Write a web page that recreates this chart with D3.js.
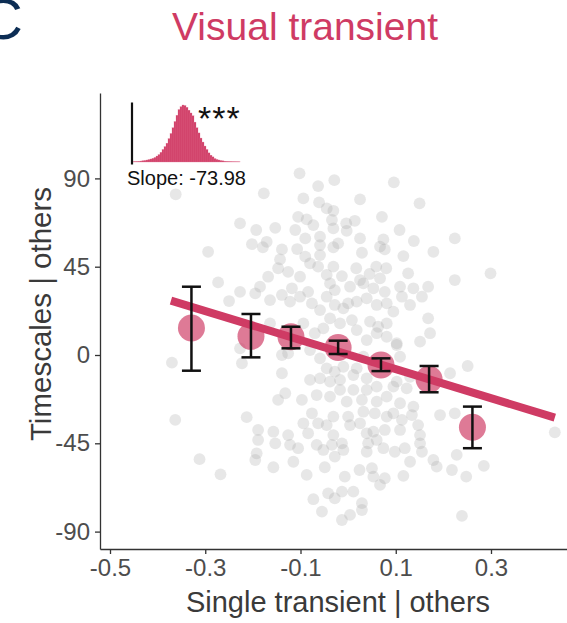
<!DOCTYPE html>
<html>
<head>
<meta charset="utf-8">
<script src="https://cdn.jsdelivr.net/npm/d3@7"></script>
<style>
  html, body { margin: 0; padding: 0; background: #ffffff; }
  svg { display: block; }
  text { font-family: "Liberation Sans", Arial, Helvetica, sans-serif; }
</style>
</head>
<body>
<svg id="chart" width="567" height="623"></svg>
<script>
// ---- data -------------------------------------------------------------
// individual observations: [single transient | others, timescales | others]
const pointX = [
  -0.362,-0.294,-0.273,-0.370,-0.363,-0.312,
  -0.102,-0.029,0.096,-0.063,-0.177,-0.094,0.025,0.150,-0.061,-0.045,-0.031,0.071,-0.105,-0.087,
  -0.034,0.014,-0.227,-0.004,-0.073,-0.153,-0.193,-0.111,-0.031,-0.003,0.108,-0.090,-0.059,0.025,
  0.074,0.138,0.224,-0.202,-0.171,-0.179,-0.139,-0.107,-0.059,-0.031,-0.021,0.067,0.077,0.029,
  0.116,0.179,-0.143,-0.090,-0.059,-0.147,-0.126,-0.080,-0.063,-0.031,0.017,0.059,0.080,0.126,
  -0.168,-0.101,-0.045,-0.013,0.025,0.045,0.067,0.224,-0.227,-0.185,-0.118,-0.084,-0.038,-0.028,
  0.004,0.032,0.053,0.077,0.109,0.137,0.168,0.299,
  -0.250,-0.195,-0.164,-0.139,-0.122,-0.101,-0.076,-0.059,-0.045,-0.028,-0.010,0.000,0.018,0.039,
  0.060,0.081,0.095,0.113,0.130,0.168,0.155,-0.038,-0.017,0.008,0.046,0.063,0.081,0.060,0.081,
  0.018,0.039,0.102,0.151,0.172,-0.164,-0.094,-0.070,-0.052,-0.227,-0.223,-0.139,-0.126,-0.139,
  -0.080,-0.059,-0.045,-0.028,-0.010,0.018,0.039,0.011,-0.017,-0.038,-0.059,-0.080,0.032,0.109,
  0.102,0.130,0.123,0.095,0.060,0.039,0.011,-0.017,-0.066,-0.132,-0.147,-0.097,-0.038,-0.003,
  0.029,0.060,0.081,0.109,0.137,0.214,0.251,0.102,
  -0.213,-0.189,-0.189,-0.157,-0.153,-0.126,-0.122,-0.105,-0.094,-0.084,-0.076,-0.063,-0.045,
  -0.066,-0.052,-0.034,-0.031,-0.028,-0.013,-0.010,-0.031,0.000,0.004,0.025,0.032,0.056,0.081,
  0.095,0.113,0.134,0.147,0.193,0.224,0.039,0.053,0.042,0.039,0.060,0.077,0.074,0.098,0.109,
  0.119,0.151,0.151,0.155,0.130,0.179,0.186,0.218,0.228,-0.192,-0.195,-0.157,-0.115,-0.087,
  -0.049,-0.007,0.024,0.050,0.053,0.077,0.067,0.116,-0.268,-0.042,-0.028,-0.013,0.011,-0.073,
  -0.055,-0.013,0.004,0.029,0.029,
  0.434,0.285,0.248,0.239
];
const pointY = [
  81.9,52.6,37.0,-3.9,-33.1,-53.1,
  92.6,89.1,88.0,86.1,82.4,79.8,79.3,77.3,77.8,74.7,73.5,70.4,70.4,69.1,
  68.8,68.4,67.1,67.1,66.2,64.8,63.7,63.7,64.5,63.3,63.7,59.4,60.3,59.4,
  58.9,58.1,59.4,56.5,57.7,54.9,53.8,54.0,56.0,54.9,56.9,55.2,53.8,52.1,
  50.4,52.6,48.7,50.1,50.9,44.2,42.4,46.7,45.0,45.0,44.2,45.0,44.2,41.6,
  39.9,39.9,40.8,40.2,38.2,41.3,39.1,38.2,32.2,34.8,34.0,32.2,36.5,33.1,
  34.8,36.5,34.0,32.2,34.8,34.0,34.8,41.6,
  27.5,31.4,28.0,30.6,27.2,29.7,26.3,22.9,29.7,25.5,23.8,26.3,27.2,28.9,
  25.5,26.3,22.1,29.7,25.5,18.7,29.7,18.7,16.1,17.8,17.0,14.4,16.1,11.1,9.3,
  12.7,7.6,6.0,6.8,11.1,16.1,16.1,11.1,13.6,3.4,-4.2,0.0,0.9,-9.3,
  2.5,-1.7,-6.8,-8.5,-6.0,-6.8,-11.9,-10.2,-12.7,-13.6,-11.9,-12.7,-0.9,-0.9,
  -13.6,-11.1,-17.0,-16.1,-16.1,-17.8,-17.8,-17.8,-20.4,-19.5,-22.9,-22.9,-21.2,-23.8,
  -22.9,-23.8,-21.2,-24.6,-26.3,-9.3,-5.6,5.1,
  -31.7,-38.2,-43.3,-39.1,-45.0,-40.8,-45.8,-47.5,-34.8,-39.9,-29.7,-34.8,-35.7,
  -45.8,-48.4,-45.8,-40.8,-51.8,-45.0,-48.4,-31.4,-31.4,-35.7,-34.8,-28.9,-29.7,-31.4,
  -29.7,-33.1,-30.6,-35.7,-30.6,-29.7,-39.9,-39.1,-45.0,-49.3,-43.3,-38.2,-47.5,-49.3,-38.2,
  -47.5,-40.8,-45.0,-49.3,-54.4,-53.5,-56.9,-58.6,-50.9,-50.1,-53.5,-57.2,-54.4,-61.1,
  -57.2,-62.0,-58.6,-57.7,-62.0,-62.8,-66.2,-61.6,-60.8,-70.5,-73.0,-69.6,-69.6,-73.5,
  -79.8,-84.1,-81.5,-75.5,-79.0,
  -39.4,-56.5,-62.0,-82.0
];

// binned means with error bars
const binX    = [-0.329, -0.204, -0.120, -0.021, 0.069, 0.170, 0.261];
const binMean = [13.8, 9.5, 9.3, 3.8, -5.1, -12.4, -36.8];
const binLow  = [-8.0, -1.2, 3.4, 0.5, -8.2, -19.0, -47.5];
const binHigh = [34.8, 20.9, 14.4, 7.3, -1.7, -5.6, -26.3];

// fitted line
const slopeEst = -73.98;
const fitIntercept = 0.2;
const fitRange = [-0.372, 0.434];

// bootstrap distribution of the slope (relative bin counts)
const slopeHist = [
  0.5,0.8,1,1.3,1.7,2.2,2.8,3.5,4.3,5.3,6.5,8,10.5,13,17,22,27,33,41,50,
  60,71,82,92,97,100,99,96,91,86,81,70,60,51,42,35,28,22,16,12,
  9,6,4.5,3.5,2.5,2,1.5,1.2,1,0.8,0.6,0.5,0.4,0.3
];

// axes
const xTicks = [-0.5, -0.3, -0.1, 0.1, 0.3];
const yTicks = [-90, -45, 0, 45, 90];

const titleText = "Visual transient";
const xLabel = "Single transient | others";
const yLabel = "Timescales | others";
const panelTag = "C";

// ---- drawing ----------------------------------------------------------
const accent = "#cf3b64";
const svg = d3.select("#chart");

const x = d3.scaleLinear().domain([-0.5, 0.3]).range([110, 491]);
x.domain([x.invert(100), x.invert(610)]).range([100, 610]);
const y = d3.scaleLinear().domain([0, 45]).range([355, 266.7]);
y.domain([y.invert(549), y.invert(93)]).range([549, 93]);

// panel tag and title
svg.append("text")
  .attr("x", -19).attr("y", 39)
  .attr("font-size", 58)
  .attr("fill", "#0c2d54")
  .text(panelTag);

svg.append("text")
  .attr("x", 305).attr("y", 40)
  .attr("text-anchor", "middle")
  .attr("font-size", 39)
  .attr("fill", accent)
  .text(titleText);

// scatter of individual observations
svg.append("g")
  .selectAll("circle")
  .data(pointX.map((v, i) => [v, pointY[i]]))
  .join("circle")
  .attr("cx", d => x(d[0]))
  .attr("cy", d => y(d[1]))
  .attr("r", 5.9)
  .attr("fill", "#a8a8a8")
  .attr("fill-opacity", 0.27);

// binned means
svg.append("g")
  .selectAll("circle")
  .data(binX.map((v, i) => [v, binMean[i]]))
  .join("circle")
  .attr("cx", d => x(d[0]))
  .attr("cy", d => y(d[1]))
  .attr("r", 13.5)
  .attr("fill", accent)
  .attr("fill-opacity", 0.68);

// regression line
svg.append("line")
  .attr("x1", x(fitRange[0]))
  .attr("y1", y(fitIntercept + slopeEst * fitRange[0]))
  .attr("x2", x(fitRange[1]))
  .attr("y2", y(fitIntercept + slopeEst * fitRange[1]))
  .attr("stroke", accent)
  .attr("stroke-width", 8);

// error bars
const eb = svg.append("g").attr("stroke", "#111").attr("stroke-width", 2.5).attr("fill", "none");
binX.forEach((v, i) => {
  const cx = x(v);
  eb.append("line").attr("x1", cx).attr("x2", cx).attr("y1", y(binLow[i])).attr("y2", y(binHigh[i]));
  eb.append("line").attr("x1", cx - 9.5).attr("x2", cx + 9.5).attr("y1", y(binLow[i])).attr("y2", y(binLow[i]));
  eb.append("line").attr("x1", cx - 9.5).attr("x2", cx + 9.5).attr("y1", y(binHigh[i])).attr("y2", y(binHigh[i]));
});

// axes
const axisColor = "#333333";
const tickColor = "#4d4d4d";
const gx = svg.append("g")
  .attr("transform", `translate(0,${y.range()[0]})`)
  .call(d3.axisBottom(x).tickValues(xTicks).tickFormat(d3.format(".1f")).tickSize(5).tickSizeOuter(0).tickPadding(5));
const gy = svg.append("g")
  .attr("transform", `translate(${x.range()[0]},0)`)
  .call(d3.axisLeft(y).tickValues(yTicks).tickSize(5).tickSizeOuter(0).tickPadding(5));
[gx, gy].forEach(g => {
  g.select(".domain").attr("stroke", axisColor).attr("stroke-width", 1.3);
  g.selectAll(".tick line").attr("stroke", axisColor).attr("stroke-width", 1.3);
  g.selectAll(".tick text")
    .attr("font-size", 24)
    .attr("fill", tickColor)
    .attr("font-family", "'Liberation Sans', Arial, sans-serif");
});
gx.selectAll(".tick text").text(d => d3.format(".1f")(d).replace("−", "-"));
gy.selectAll(".tick text").text(d => String(d));

// axis titles
svg.append("text")
  .attr("x", 338).attr("y", 612)
  .attr("text-anchor", "middle")
  .attr("font-size", 29)
  .attr("fill", "#3a3a3a")
  .text(xLabel);
svg.append("text")
  .attr("transform", "translate(51,314) rotate(-90)")
  .attr("text-anchor", "middle")
  .attr("font-size", 29.5)
  .attr("fill", "#3a3a3a")
  .text(yLabel);

// inset: bootstrap distribution of the slope
const xi = d3.scaleLinear().domain([0, slopeHist.length]).range([132, 240]);
const yi = d3.scaleLinear().domain([0, 100]).range([162, 105]);
const inset = svg.append("g");
inset.selectAll("rect")
  .data(slopeHist)
  .join("rect")
  .attr("x", (d, i) => xi(i))
  .attr("width", xi(1) - xi(0))
  .attr("y", d => yi(d))
  .attr("height", d => yi(0) - yi(d))
  .attr("fill", accent)
  .attr("stroke", "#e07a98")
  .attr("stroke-width", 0.3);
inset.append("line")
  .attr("x1", xi(0)).attr("x2", xi(0))
  .attr("y1", 102.5).attr("y2", 164.5)
  .attr("stroke", "#111").attr("stroke-width", 2.2);
inset.append("text")
  .attr("x", 198).attr("y", 130)
  .attr("font-size", 34)
  .attr("letter-spacing", 1)
  .attr("fill", "#111")
  .text("***");
inset.append("text")
  .attr("x", 186.5).attr("y", 184.5)
  .attr("text-anchor", "middle")
  .attr("font-size", 20)
  .attr("fill", "#111")
  .text("Slope: " + slopeEst.toFixed(2));
</script>
</body>
</html>
